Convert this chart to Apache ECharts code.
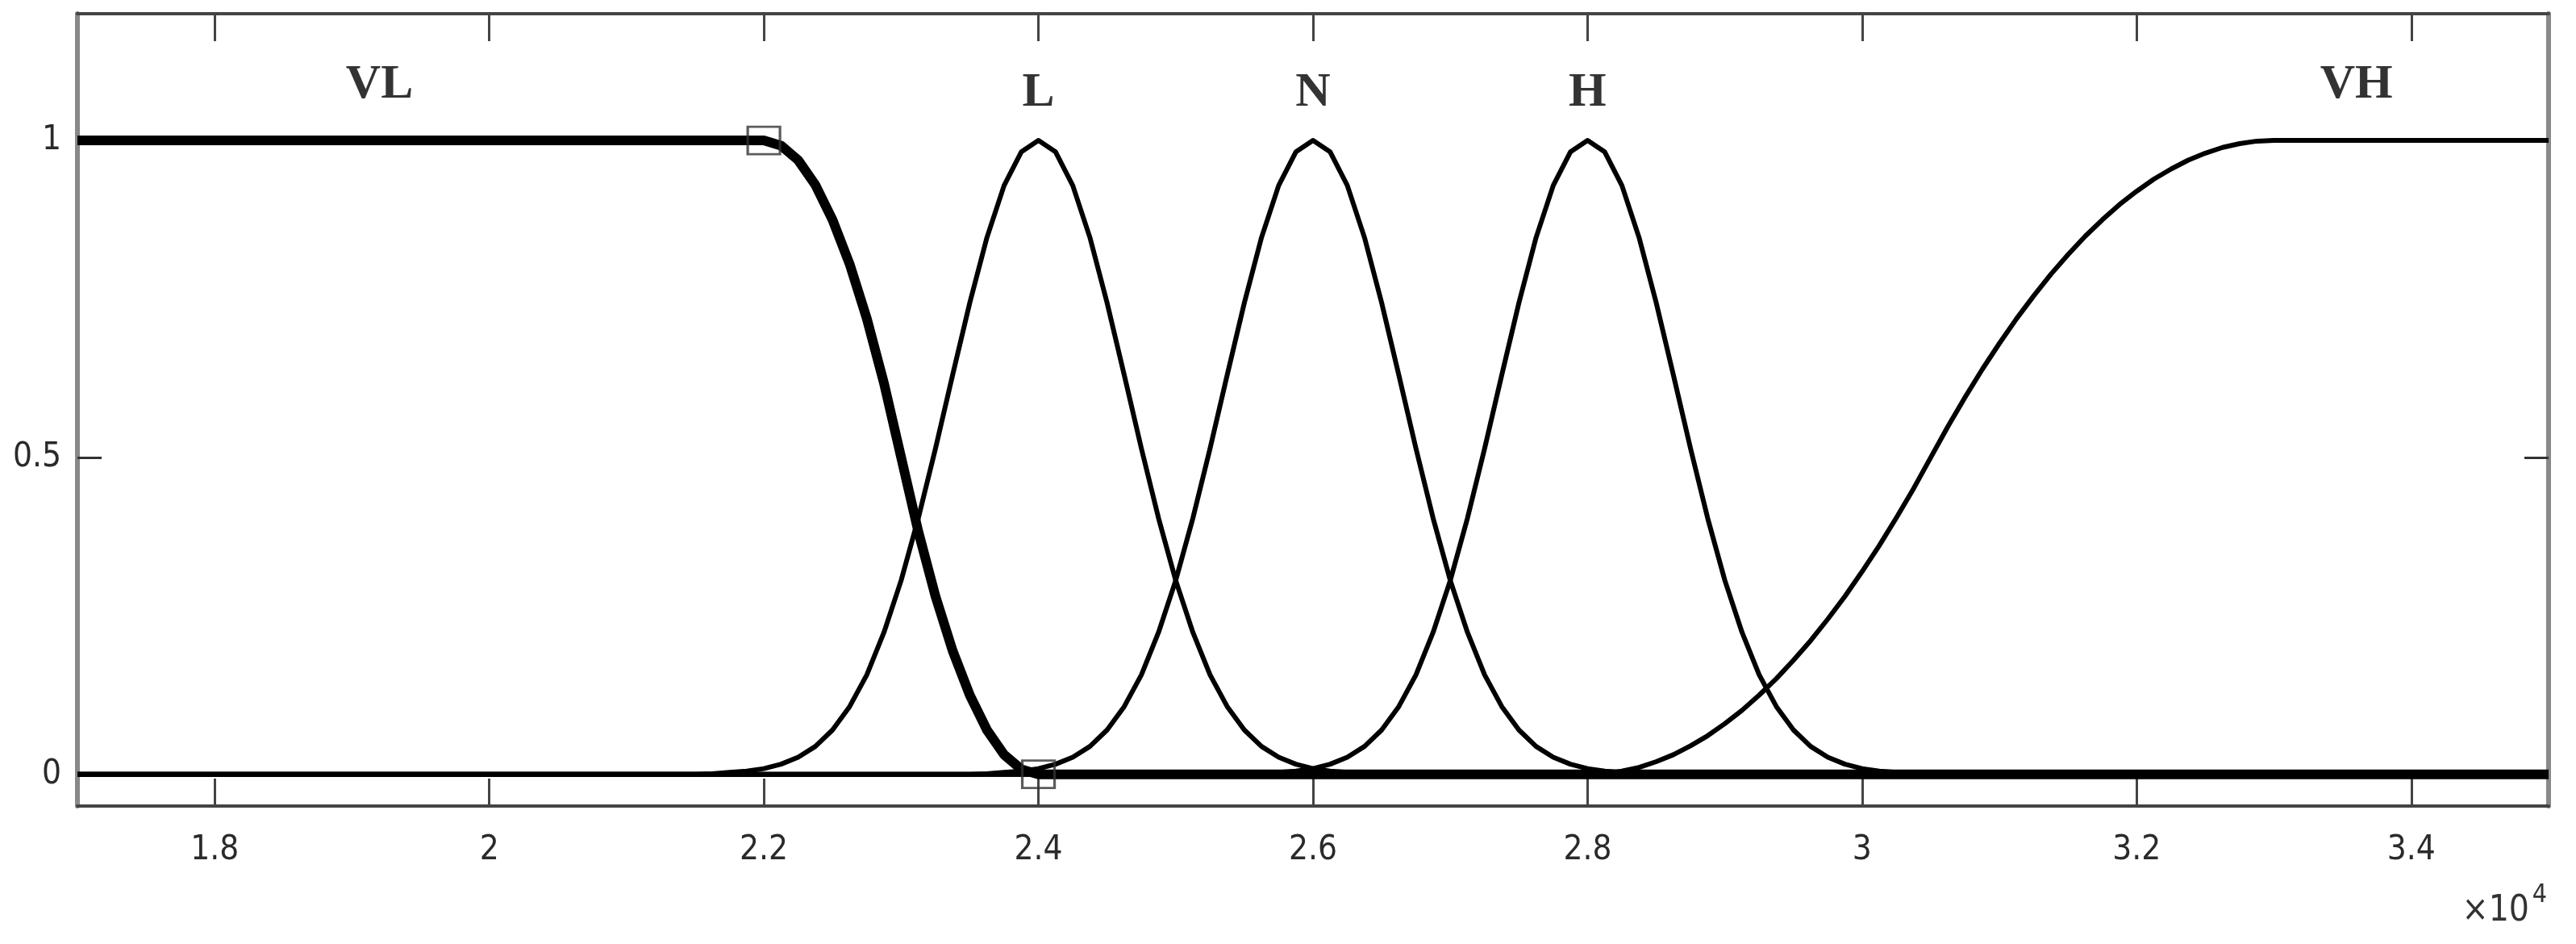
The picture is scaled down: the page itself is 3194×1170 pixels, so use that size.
<!DOCTYPE html>
<html>
<head>
<meta charset="utf-8">
<title>membership functions</title>
<script src="https://cdn.jsdelivr.net/npm/echarts@6.0.0/dist/echarts.min.js"></script>
<style>
html, body {
  margin: 0;
  padding: 0;
  background: #fff;
}
#chartMain {
  width: 3194px;
  height: 1170px;
}
</style>
</head>
<body>
<div id="chartMain"></div>
<script>
// 横轴 (x10^4)
var xTicks = [18000, 20000, 22000, 24000, 26000, 28000, 30000, 32000, 34000];
var yTicks = [0, 0.5, 1];

// VL
var vlX = [17000, 22000, 22125, 22250, 22375, 22500, 22625, 22750, 22875, 23000,
  23125, 23250, 23375, 23500, 23625, 23750, 23875, 24000, 35000];
var vlY = [1, 1, 0.992, 0.969, 0.930, 0.875, 0.805, 0.719, 0.617, 0.5,
  0.383, 0.281, 0.195, 0.125, 0.070, 0.031, 0.008, 0, 0];

// L
var lX = [17000, 21500, 21625, 21750, 21875, 22000, 22125, 22250, 22375, 22500, 22625, 22750, 22875, 23000,
  23125, 23250, 23375, 23500, 23625, 23750, 23875, 24000, 24125, 24250, 24375, 24500, 24625, 24750, 24875,
  25000, 25125, 25250, 25375, 25500, 25625, 25750, 25875, 26000, 26125, 26250, 26375, 26500, 35000];
var lY = [0, 0, 0.001, 0.003, 0.005, 0.009, 0.016, 0.027, 0.044, 0.070, 0.107, 0.157, 0.224, 0.306,
  0.404, 0.514, 0.630, 0.744, 0.847, 0.929, 0.982, 1, 0.982, 0.929, 0.847, 0.744, 0.630, 0.514, 0.404,
  0.306, 0.224, 0.157, 0.107, 0.070, 0.044, 0.027, 0.016, 0.009, 0.005, 0.003, 0.001, 0, 0];

// N
var nX = [17000, 23500, 23625, 23750, 23875, 24000, 24125, 24250, 24375, 24500, 24625, 24750, 24875, 25000,
  25125, 25250, 25375, 25500, 25625, 25750, 25875, 26000, 26125, 26250, 26375, 26500, 26625, 26750, 26875,
  27000, 27125, 27250, 27375, 27500, 27625, 27750, 27875, 28000, 28125, 28250, 28375, 28500, 35000];
var nY = [0, 0, 0.001, 0.003, 0.005, 0.009, 0.016, 0.027, 0.044, 0.070, 0.107, 0.157, 0.224, 0.306,
  0.404, 0.514, 0.630, 0.744, 0.847, 0.929, 0.982, 1, 0.982, 0.929, 0.847, 0.744, 0.630, 0.514, 0.404,
  0.306, 0.224, 0.157, 0.107, 0.070, 0.044, 0.027, 0.016, 0.009, 0.005, 0.003, 0.001, 0, 0];

// H
var hX = [17000, 25500, 25625, 25750, 25875, 26000, 26125, 26250, 26375, 26500, 26625, 26750, 26875, 27000,
  27125, 27250, 27375, 27500, 27625, 27750, 27875, 28000, 28125, 28250, 28375, 28500, 28625, 28750, 28875,
  29000, 29125, 29250, 29375, 29500, 29625, 29750, 29875, 30000, 30125, 30250, 30375, 30500, 35000];
var hY = [0, 0, 0.001, 0.003, 0.005, 0.009, 0.016, 0.027, 0.044, 0.070, 0.107, 0.157, 0.224, 0.306,
  0.404, 0.514, 0.630, 0.744, 0.847, 0.929, 0.982, 1, 0.982, 0.929, 0.847, 0.744, 0.630, 0.514, 0.404,
  0.306, 0.224, 0.157, 0.107, 0.070, 0.044, 0.027, 0.016, 0.009, 0.005, 0.003, 0.001, 0, 0];

// VH
var vhX = [17000, 28000, 28125, 28250, 28375, 28500, 28625, 28750, 28875, 29000, 29125, 29250, 29375, 29500,
  29625, 29750, 29875, 30000, 30125, 30250, 30375, 30500, 30625, 30750, 30875, 31000, 31125, 31250, 31375,
  31500, 31625, 31750, 31875, 32000, 32125, 32250, 32375, 32500, 32625, 32750, 32875, 33000, 35000];
var vhY = [0, 0, 0.001, 0.005, 0.011, 0.02, 0.031, 0.045, 0.061, 0.08, 0.101, 0.125, 0.151, 0.18,
  0.211, 0.245, 0.281, 0.32, 0.361, 0.405, 0.451, 0.5, 0.549, 0.595, 0.639, 0.68, 0.719, 0.755, 0.789,
  0.82, 0.849, 0.875, 0.899, 0.92, 0.939, 0.955, 0.969, 0.98, 0.989, 0.995, 0.999, 1, 1];

// 选中的 VL 参数点
var paramX = [22000, 24000];
var paramY = [1, 0];

// 曲线名称
var labelNames = ['VL', 'L', 'N', 'H', 'VH'];
var labelX = [19200, 24000, 26000, 28000, 33600];
var labelY = [1.087, 1.074, 1.074, 1.074, 1.087];

var tickFont = "'Liberation Sans Narrow', 'DejaVu Sans Condensed', 'Liberation Sans', sans-serif";

function zip(xs, ys) {
  return xs.map(function (x, i) { return [x, ys[i]]; });
}

function mfLine(name, xs, ys, width) {
  return {
    name: name,
    type: 'line',
    data: zip(xs, ys),
    symbol: 'none',
    lineStyle: { color: '#000', width: width, cap: 'butt', join: 'round' },
    z: width > 8 ? 4 : 3
  };
}

var chartDom = document.getElementById('chartMain');
var myChart = echarts.init(chartDom);
var option;

option = {
  animation: false,
  backgroundColor: '#fff',
  grid: {
    left: 96,
    right: 34,
    top: 17,
    bottom: 171,
    containLabel: false,
    outerBoundsMode: 'none'
  },
  xAxis: [
    {
      type: 'value',
      position: 'bottom',
      min: 17000,
      max: 35000,
      axisLine: { onZero: false, lineStyle: { color: '#444', width: 4 } },
      axisTick: { inside: true, length: 34, customValues: xTicks, lineStyle: { color: '#444', width: 3 } },
      axisLabel: {
        customValues: xTicks,
        margin: 34,
        color: '#2a2a2a',
        fontSize: 42,
        fontFamily: tickFont,
        formatter: function (v) { return String(Math.round(v / 1000) / 10); }
      },
      splitLine: { show: false }
    },
    {
      type: 'value',
      position: 'top',
      min: 17000,
      max: 35000,
      axisLine: { onZero: false, lineStyle: { color: '#444', width: 4 } },
      axisTick: { inside: true, length: 34, customValues: xTicks, lineStyle: { color: '#444', width: 3 } },
      axisLabel: { show: false },
      splitLine: { show: false }
    }
  ],
  yAxis: [
    {
      type: 'value',
      position: 'left',
      min: -0.05,
      max: 1.2,
      axisLine: { show: true, onZero: false, lineStyle: { color: '#888', width: 6 } },
      axisTick: { show: true, inside: true, length: 30, customValues: yTicks, lineStyle: { color: '#333', width: 3 } },
      axisLabel: {
        customValues: yTicks,
        margin: 20,
        color: '#2a2a2a',
        fontSize: 42,
        fontFamily: tickFont
      },
      splitLine: { show: false }
    },
    {
      type: 'value',
      position: 'right',
      min: -0.05,
      max: 1.2,
      axisLine: { show: true, onZero: false, lineStyle: { color: '#888', width: 6 } },
      axisTick: { show: true, inside: true, length: 30, customValues: yTicks, lineStyle: { color: '#333', width: 3 } },
      axisLabel: { show: false },
      splitLine: { show: false }
    }
  ],
  graphic: [
    {
      type: 'text',
      right: 58,
      top: 1108,
      style: { text: '×10', fill: '#333', font: "44px 'Liberation Sans Narrow', 'DejaVu Sans Condensed', sans-serif" }
    },
    {
      type: 'text',
      right: 36,
      top: 1094,
      style: { text: '4', fill: '#333', font: "32px 'Liberation Sans Narrow', 'DejaVu Sans Condensed', sans-serif" }
    }
  ],
  series: [
    mfLine('L', lX, lY, 6),
    mfLine('N', nX, nY, 6),
    mfLine('H', hX, hY, 6),
    mfLine('VH', vhX, vhY, 6),
    mfLine('VL', vlX, vlY, 12),
    {
      name: 'params',
      type: 'scatter',
      data: zip(paramX, paramY),
      symbol: 'rect',
      symbolSize: [40, 34],
      itemStyle: { color: 'rgba(0,0,0,0)', borderColor: '#333', borderWidth: 3 },
      z: 5
    },
    {
      name: 'names',
      type: 'scatter',
      data: labelX.map(function (x, i) { return { name: labelNames[i], value: [x, labelY[i]] }; }),
      symbolSize: 0,
      label: {
        show: true,
        position: 'inside',
        formatter: '{b}',
        color: '#000',
        fontSize: 60,
        fontWeight: 'bold',
        fontFamily: "'Liberation Serif', 'DejaVu Serif', serif"
      },
      z: 6
    }
  ]
};

option && myChart.setOption(option);
</script>
</body>
</html>
